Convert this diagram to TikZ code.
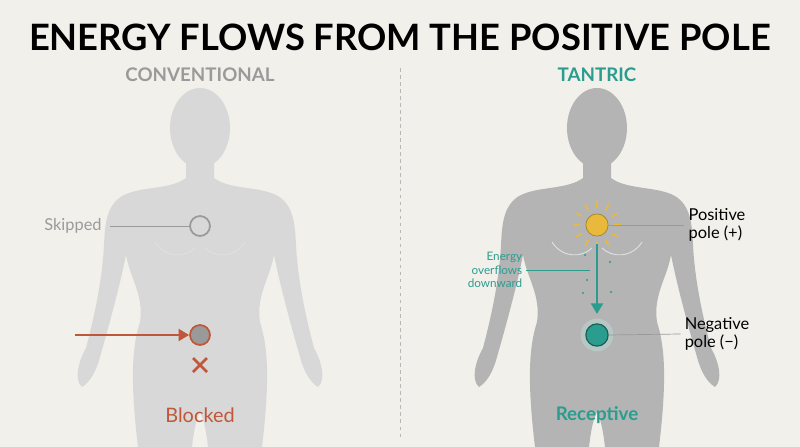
\documentclass[tikz,border=0pt]{standalone}
\usepackage{fontspec}
\setmainfont{Lato}
\usetikzlibrary{positioning,arrows.meta}
\definecolor{bg}{HTML}{F2F0EB}
\definecolor{figA}{HTML}{D8D8D8}
\definecolor{figB}{HTML}{B4B4B4}
\definecolor{greytxt}{HTML}{9A9A9A}
\definecolor{redc}{HTML}{C0573A}
\definecolor{tealc}{HTML}{2A9D8F}
\definecolor{sunc}{HTML}{E8B93A}
\newcommand\halfbody{%
  (0,150) -- (14,150) -- (14,178) .. controls (30,190) and (60,186) .. (78,196)
  .. controls (94,206) and (95,225) .. (96,245)
  .. controls (98,285) and (108,325) .. (114,348)
  .. controls (122,362) and (126,380) .. (118,387)
  .. controls (110,382) and (104,372) .. (100,357)
  .. controls (90,322) and (80,285) .. (74,255)
  .. controls (70,278) and (56,295) .. (60,322)
  .. controls (68,347) and (70,380) .. (62,447)
  -- (8,447) .. controls (6,430) and (4,420) .. (0,412) -- cycle}
\newcommand\silhouette[2]{%
  \begin{scope}[xshift=#1*0.03cm]
    \fill[#2] (0,128) ellipse [x radius=30, y radius=40];
    \fill[#2] \halfbody;
    \fill[#2, xscale=-1] \halfbody;
    \draw[black!12, line width=0.8pt] (-45,242) .. controls (-35,258) and (-15,258) .. (-5,248);
    \draw[black!12, line width=0.8pt] (45,242) .. controls (35,258) and (15,258) .. (5,248);
  \end{scope}}
\tikzset{
  head/.style={font=\bfseries\fontsize{16}{18}\selectfont},
  lbl/.style={font=\fontsize{14}{16}\selectfont, align=left},
  small/.style={font=\fontsize{10}{11.5}\selectfont, align=right, text=tealc},
  lead/.style={line width=0.6pt}
}
\begin{document}
\begin{tikzpicture}[x=0.03cm,y=-0.03cm]
  \fill[bg] (0,0) rectangle (800,447);
  \useasboundingbox (0,0) rectangle (800,447);
  \node (title) at (400,37) {\fontsize{31}{34}\selectfont\bfseries ENERGY FLOWS FROM THE POSITIVE POLE};
  \draw[greytxt!70, dashed, line width=0.7pt] (400,68) -- (400,440);
  % conventional side
  \silhouette{200}{figA}
  \node[head, text=greytxt] (conv) at (200,75) {CONVENTIONAL};
  \node[draw=greytxt, line width=1.5pt, circle, minimum size=17pt] (skip) at (200,226) {};
  \node[lbl, text=greytxt] (skipl) at (73,226) {Skipped};
  \draw[lead, greytxt] (skipl.east) ++(4,0) coordinate (s0) -- (skip.west);
  \node[draw=redc, fill=greytxt, line width=1.5pt, circle, minimum size=17pt] (blk) at (200,335) {};
  \coordinate (a0) at (75,335);
  \draw[redc, line width=2.5pt, -{Triangle[length=9pt,width=10pt]}] (a0) -- (blk.west);
  \draw[redc, line width=2.3pt] (193,358) -- (207,372) (207,358) -- (193,372);
  \node[head, text=redc, font=\fontsize{17}{19}\selectfont] (blkl) at (200,415) {Blocked};
  % tantric side
  \silhouette{597}{figB}
  \node[head, text=tealc] (tant) at (597,75) {TANTRIC};
  \foreach \a in {0,30,...,330}
    \draw[sunc, line width=1.3pt] (597,225) ++(\a:17) -- ++(\a:7);
  \node[fill=sunc, draw=sunc!70!black, line width=0.6pt, circle, minimum size=19pt] (pos) at (597,225) {};
  \node[fill=tealc!30, circle, minimum size=28pt, opacity=0.4] at (597,335) {};
  \node[fill=tealc, draw=tealc!60!black, line width=1pt, circle, minimum size=19pt] (neg) at (597,335) {};
  \draw[tealc, line width=2.5pt, -{Triangle[length=9pt,width=10pt]}] (pos.south) ++(0,8) coordinate (f0) -- (597,314);
  \foreach \p in {(585,255),(610,262),(587,280),(611,292),(583,293)}
    \fill[tealc] \p circle (1.2);
  \node[lbl] (posl) at (717,225) {Positive\\pole (+)};
  \draw[lead, greytxt] (posl.west) -- (pos.east);
  \node[lbl] (negl) at (717,334) {Negative\\pole (−)};
  \draw[lead, greytxt] (negl.west) -- (neg.east);
  \node[small] (flow) at (495,270) {Energy\\overflows\\downward};
  \coordinate (f1) at (590,270);
  \draw[lead, tealc] (flow.east) -- (f1);
  \node[head, text=tealc] (rec) at (597,415) {Receptive};
\end{tikzpicture}
\end{document}
